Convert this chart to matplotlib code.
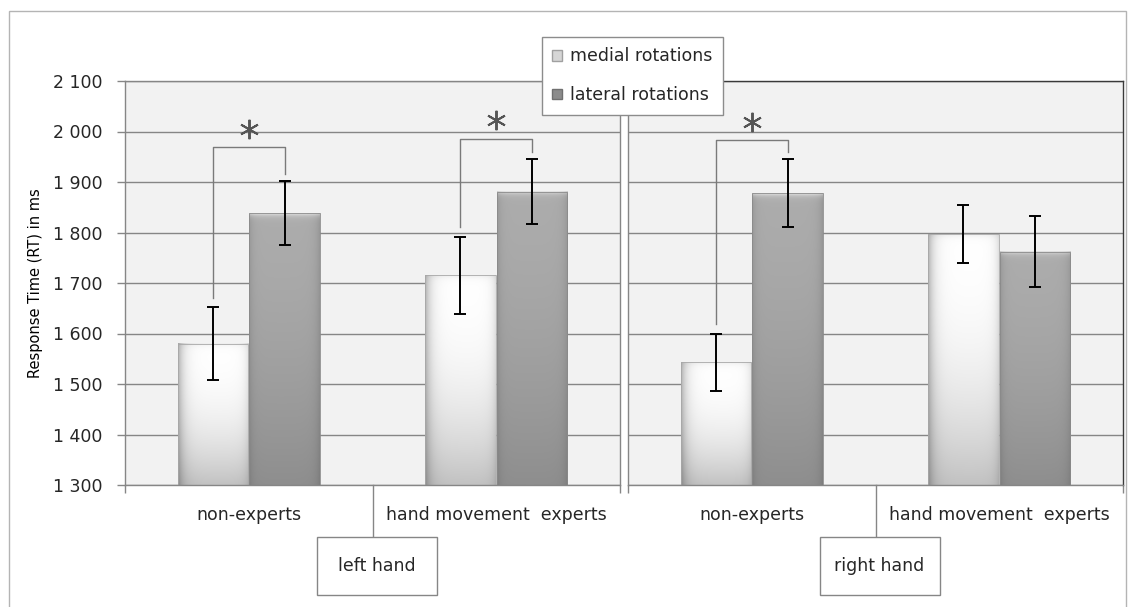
import numpy as np
import matplotlib.pyplot as plt
import matplotlib.transforms as mtrans
from matplotlib.patches import Rectangle, Patch
from matplotlib.ticker import FuncFormatter

plt.rcParams['font.family'] = ['DejaVu Sans']
plt.rcParams['text.color'] = '#262626'
plt.rcParams['xtick.labelcolor'] = '#262626'
plt.rcParams['ytick.labelcolor'] = '#262626'

groups = ['non-experts', 'hand movement  experts']
hands = ['left hand', 'right hand']
series = ['medial rotations', 'lateral rotations']

# mean response time in ms, one entry per group
medial_left = [1580, 1715]
lateral_left = [1838, 1881]
medial_right = [1543, 1797]
lateral_right = [1878, 1762]

# error bar half-lengths in ms
medial_err_left = [73, 77]
lateral_err_left = [63, 65]
medial_err_right = [57, 58]
lateral_err_right = [67, 70]

# height of the significance bracket per group (None = not significant)
sig_left = [1969, 1986]
sig_right = [1983, None]

y_ticks = list(range(1300, 2101, 100))

W, H = 1134, 607
GRID = '#868686'


def shade_bar(ax, bar, kind):
    """paint an excel-like gradient inside a bar"""
    x0, y0 = bar.get_x(), bar.get_y()
    w, h = bar.get_width(), bar.get_height()
    u = np.linspace(0, 1, 80)[None, :]
    v = np.linspace(0, 1, 300)[:, None]
    from_top = (1 - v) * h
    if kind == 0:
        across = 1 - 0.30 * np.exp(-u / 0.08) - 0.12 * np.exp(-(1 - u) / 0.06)
        down = 1 - 0.24 * (1 - v) ** 2.2
        bevel = 1 - 0.07 * np.exp(-from_top / 6)
        val = 255 * across * down * bevel
    else:
        across = 1 - 0.12 * np.exp(-u / 0.05) - 0.12 * np.exp(-(1 - u) / 0.06)
        down = 172 - 30 * (1 - v) ** 1.6
        val = down * across + 55 * np.exp(-from_top / 5)
    img = np.clip(val, 0, 255) / 255
    ax.imshow(np.dstack([img] * 3), extent=(x0, x0 + w, y0, y0 + h),
              origin='lower', aspect='auto', zorder=2, interpolation='bilinear')


def draw_panel(ax, medial, lateral, med_err, lat_err, sig, hand, first):
    x = np.arange(len(groups))
    off, bw = 0.145, 0.285
    base = y_ticks[0]
    ax.set_facecolor('#f2f2f2')

    med = np.array(medial)
    lat = np.array(lateral)
    b1 = ax.bar(x - off, med - base, bw, bottom=base, color='none',
                edgecolor='#a8a8a8', linewidth=0.6, zorder=2.5)
    b2 = ax.bar(x + off, lat - base, bw, bottom=base, color='none',
                edgecolor='#8a8a8a', linewidth=0.6, zorder=2.5)
    for b in b1:
        shade_bar(ax, b, 0)
    for b in b2:
        shade_bar(ax, b, 1)

    ax.errorbar(x - off, med, yerr=med_err, fmt='none', ecolor='black',
                elinewidth=1.4, capsize=4.5, capthick=1.4, zorder=4)
    ax.errorbar(x + off, lat, yerr=lat_err, fmt='none', ecolor='black',
                elinewidth=1.4, capsize=4.5, capthick=1.4, zorder=4)

    # significance brackets
    for i, top in enumerate(sig):
        if top is None:
            continue
        yl = med[i] + med_err[i] + 18
        yr = lat[i] + lat_err[i] + 14
        ax.plot([x[i] - off, x[i] - off, x[i] + off, x[i] + off],
                [yl, top, top, yr], color='#7a7a7a', lw=1, zorder=4)
        ax.plot(x[i], top + 36, marker=(6, 2, 0), ms=14, mew=1.4,
                color='#555555', linestyle='none', zorder=4)

    ax.set_xlim(-0.5, len(groups) - 0.5)
    ax.set_ylim(y_ticks[0], y_ticks[-1])
    ax.set_yticks(y_ticks)
    ax.yaxis.grid(True, color=GRID, lw=1)
    ax.set_axisbelow(True)

    ax.set_xticks(x, groups)
    ax.set_xticks([-0.5, len(groups) - 0.5], minor=True)
    ax.tick_params(axis='x', which='major', length=0, pad=15, labelsize=12.5)
    ax.tick_params(axis='x', which='minor', length=6, color=GRID, width=1)

    for s in ax.spines.values():
        s.set_color(GRID)
        s.set_linewidth(1)
    if first:
        ax.yaxis.set_major_formatter(FuncFormatter(lambda v, p: f'{int(v):,}'.replace(',', ' ')))
        ax.tick_params(axis='y', length=6, color=GRID, width=1, pad=10, labelsize=12.5)
        ax.set_ylabel('Response Time (RT) in ms', fontsize=10.5, va='center')
        ax.yaxis.set_label_coords((36 - 125) / 495, 0.5)
    else:
        ax.tick_params(axis='y', left=False, labelleft=False)
        ax.spines['top'].set_color('#3a3a3a')
        ax.spines['right'].set_color('#3a3a3a')

    # line from the middle of the panel down to the hand label box
    drop = 52 / 404
    tr = mtrans.blended_transform_factory(ax.transData, ax.transAxes)
    mid = (len(groups) - 1) / 2
    ax.plot([mid, mid], [0, -drop], transform=tr, clip_on=False, color=GRID, lw=1)

    fig = ax.figure
    px = ax.transData.transform((mid, 0))[0]
    bx0 = (px + 4 - 60) / W
    by0 = 12 / H
    fig.add_artist(Rectangle((bx0, by0), 120 / W, 58 / H, transform=fig.transFigure,
                             facecolor='white', edgecolor=GRID, lw=1))
    fig.text(bx0 + 60 / W, by0 + 29 / H, hand, ha='center', va='center', fontsize=12.5)


fig = plt.figure(figsize=(W / 100, H / 100), dpi=100)
fig.patch.set_facecolor('white')

ax_l = fig.add_axes([125 / W, 122 / H, 495 / W, 404 / H])
ax_r = fig.add_axes([628 / W, 122 / H, 495 / W, 404 / H])

draw_panel(ax_l, medial_left, lateral_left, medial_err_left, lateral_err_left,
           sig_left, hands[0], True)
draw_panel(ax_r, medial_right, lateral_right, medial_err_right, lateral_err_right,
           sig_right, hands[1], False)

# outer frame
fig.add_artist(Rectangle((9 / W, -0.05), 1117 / W, 1.05 - 11 / H, transform=fig.transFigure,
                         facecolor='none', edgecolor='#b4b4b4', lw=1))

handles = [Patch(facecolor='#d6d6d6', edgecolor='#a0a0a0'),
           Patch(facecolor='#8c8c8c', edgecolor='#707070')]
fig.legend(handles, series, loc='upper left', bbox_to_anchor=(542 / W, 1 - 37 / H),
           bbox_transform=fig.transFigure, borderaxespad=0, fontsize=12.5,
           frameon=True, fancybox=False, edgecolor='#8c8c8c', framealpha=1,
           handlelength=0.55, handleheight=0.55, handletextpad=0.45,
           labelspacing=1.2, borderpad=0.6)

fig.savefig('out.png', dpi=100)
